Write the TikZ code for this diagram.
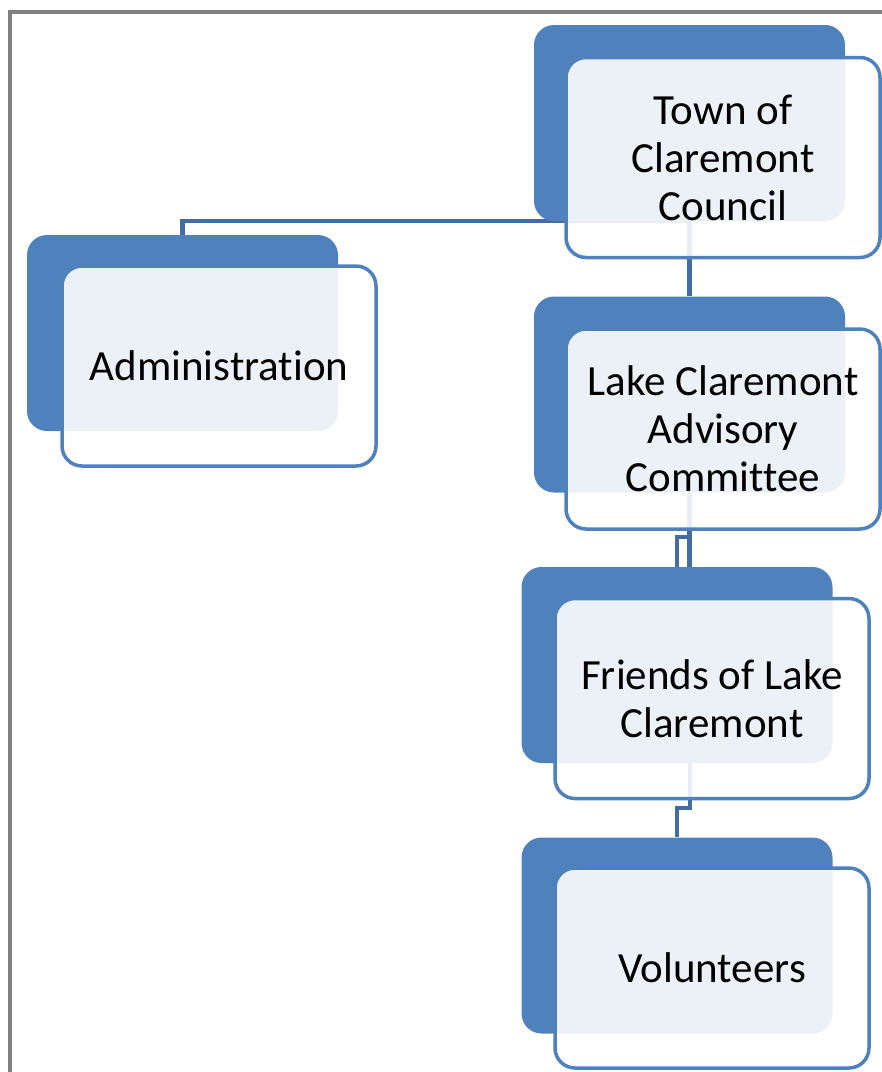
\documentclass[tikz,border=0pt]{standalone}
\usepackage{fontspec}
\setmainfont{Carlito}[RawFeature=-liga]
\pgfdeclarelayer{bg}
\pgfsetlayers{bg,main}
\definecolor{darkblue}{RGB}{79,129,189}
\definecolor{connblue}{RGB}{66,108,162}
\definecolor{framegray}{RGB}{128,128,128}
\begin{document}
\begin{tikzpicture}[x=1pt,y=-1pt,
  darkbox/.style={fill=darkblue, draw=none, rounded corners=20pt, minimum width=311pt, minimum height=196pt, inner sep=0pt},
  litebox/.style={draw=darkblue, line width=3.5pt, fill=white, fill opacity=0.89, text opacity=1, rounded corners=20pt, minimum width=314pt, minimum height=200pt, inner sep=0pt, align=center, font=\fontsize{43}{48}\selectfont},
  conn/.style={draw=connblue, line width=4.5pt},
  framestyle/.style={draw=framegray, line width=4pt}]
\useasboundingbox (0,0) rectangle (882,1072);
\draw[framestyle] (10,1074) -- (10,12) -- (884,12);
% dark back boxes
\node[darkbox] (tD) at (689.5,123) {};
\node[darkbox] (aD) at (182.5,333) {};
\node[darkbox] (lD) at (689.5,394.5) {};
\node[darkbox] (fD) at (677,665) {};
\node[darkbox] (vD) at (677,935.5) {};
% front boxes with text
\node[litebox] (t) at (723,157.5) {Town of\\Claremont\\Council};
\node[litebox] (a) at (219,366) {Administration};
\node[litebox] (l) at (723,429) {Lake Claremont\\Advisory\\Committee};
\node[litebox] (f) at (712,698.5) {Friends of Lake\\Claremont};
\node[litebox] (v) at (712,968) {Volunteers};
% connectors
\coordinate (e1) at (689.5,537);
\coordinate (f1) at (690,763);
\coordinate (f2) at (690,808);
\begin{pgfonlayer}{bg}
\draw[conn] (tD.south) -| (aD.north);
\draw[conn] (tD.south) -- (lD.north);
\draw[conn] (lD.south) -- (lD.south |- fD.north);
\draw[conn] (e1) -| (fD.north);
\draw[conn] (f1) -- (f2) -| (vD.north);
\end{pgfonlayer}
\end{tikzpicture}
\end{document}
